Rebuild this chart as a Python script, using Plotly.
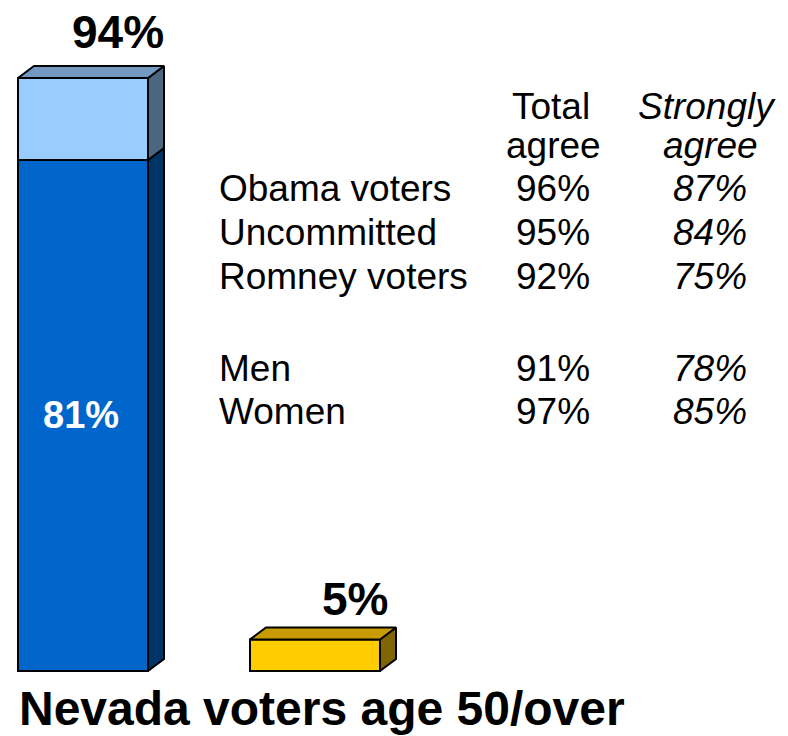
import plotly.graph_objects as go

# Survey results: share of Nevada voters age 50+ who agree / disagree
strongly_agree = 81
total_agree = 94
disagree = 5

# Breakdown table
groups = ["Obama voters", "Uncommitted", "Romney voters", "Men", "Women"]
total_by_group = [96, 95, 92, 91, 97]
strong_by_group = [87, 84, 75, 78, 85]

W, H = 788, 736
PX_PER_PCT = 6.309          # vertical scale of the bars
BASE_PX = 671               # pixel row of the 0% baseline
Y_MIN = -(H - BASE_PX) / PX_PER_PCT
Y_MAX = Y_MIN + H / PX_PER_PCT

BAR_W = 130
DEPTH_X = 16                      # horizontal depth of the 3D faces (px)
DEPTH_Y = 12 / PX_PER_PCT         # vertical depth of the 3D faces (in %)

FONT = "Liberation Sans, Arial, sans-serif"

fig = go.Figure()


def bar(xc, base, height, color):
    fig.add_trace(go.Bar(
        x=[xc], y=[height], base=[base], width=[BAR_W],
        marker=dict(color=color, line=dict(color="black", width=2)),
        hoverinfo="skip", showlegend=False,
    ))


def face(xs, ys, color):
    fig.add_trace(go.Scatter(
        x=xs + [xs[0]], y=ys + [ys[0]], mode="lines", fill="toself",
        fillcolor=color, line=dict(color="black", width=2),
        hoverinfo="skip", showlegend=False,
    ))


def side(xc, y0, y1, color):
    x1 = xc + BAR_W / 2
    face([x1, x1 + DEPTH_X, x1 + DEPTH_X, x1],
         [y0, y0 + DEPTH_Y, y1 + DEPTH_Y, y1], color)


def top(xc, y, color):
    x0, x1 = xc - BAR_W / 2, xc + BAR_W / 2
    face([x0, x1, x1 + DEPTH_X, x0 + DEPTH_X],
         [y, y, y + DEPTH_Y, y + DEPTH_Y], color)


# Agree column: strongly agree + somewhat agree stacked
agree_x = 83
bar(agree_x, 0, strongly_agree, "#0066CC")
bar(agree_x, strongly_agree, total_agree - strongly_agree, "#99CCFF")
side(agree_x, 0, strongly_agree, "#003366")
side(agree_x, strongly_agree, total_agree, "#4A6680")
top(agree_x, total_agree, "#7399C2")

# Disagree column
dis_x = 315
bar(dis_x, 0, disagree, "#FFCC00")
side(dis_x, 0, disagree, "#806600")
top(dis_x, disagree, "#C89B00")


def py(p):
    """pixel row -> paper y"""
    return 1 - p / H


ann = []


def text(x, y, s, size, bold=False, italic=False, color="black", xanchor="center"):
    if bold:
        s = f"<b>{s}</b>"
    if italic:
        s = f"<i>{s}</i>"
    ann.append(dict(x=x, y=py(y), xref="x", yref="paper", text=s, showarrow=False,
                    xanchor=xanchor, yanchor="middle",
                    font=dict(family=FONT, size=size, color=color)))


# Value labels on the bars
text(118, 32, f"{total_agree}%", 46, bold=True)
text(81, 415, f"{strongly_agree}%", 38, bold=True, color="white")
text(355, 599, f"{disagree}%", 46, bold=True)

# Table header
text(551, 107, "Total", 37)
text(553, 145, "agree", 37)
text(707, 107, "Strongly", 37, italic=True)
text(710, 145, "agree", 37, italic=True)

row_y = [188, 232, 277, 368, 411]
for g, t, s, yy in zip(groups, total_by_group, strong_by_group, row_y):
    text(217, yy, g, 37, xanchor="left")
    text(553, yy, f"{t}%", 37)
    text(710, yy, f"{s}%", 37, italic=True)

# Caption
text(322, 708, "Nevada voters age 50/over", 48, bold=True)

fig.update_layout(
    width=W, height=H, margin=dict(l=0, r=0, t=0, b=0),
    paper_bgcolor="white", plot_bgcolor="white",
    barmode="overlay",
    xaxis=dict(range=[0, W], visible=False, fixedrange=True),
    yaxis=dict(range=[Y_MIN, Y_MAX], visible=False, fixedrange=True),
    annotations=ann,
)

fig.write_html("out.html")
